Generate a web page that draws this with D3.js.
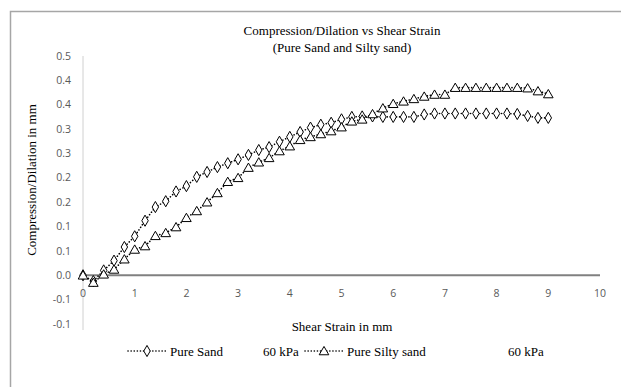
<!DOCTYPE html>
<html>
<head>
<meta charset="utf-8">
<script src="https://cdn.jsdelivr.net/npm/d3@7"></script>
<style>
  body { margin: 0; background: #fff; }
  svg { display: block; }
  .serif { font-family: "Liberation Serif", "DejaVu Serif", serif; fill: #000; font-size: 13px; }
  .tick-label { font-family: "Open Sans", "Liberation Sans", sans-serif; font-size: 10.5px; fill: #595959; }
</style>
</head>
<body>
<div id="chart"></div>
<script>
// shear strain (mm), one reading every 0.2 mm
var strain = [0, 0.2, 0.4, 0.6, 0.8, 1, 1.2, 1.4, 1.6, 1.8, 2, 2.2, 2.4, 2.6, 2.8, 3, 3.2, 3.4, 3.6, 3.8,
  4, 4.2, 4.4, 4.6, 4.8, 5, 5.2, 5.4, 5.6, 5.8, 6, 6.2, 6.4, 6.6, 6.8, 7, 7.2, 7.4, 7.6, 7.8,
  8, 8.2, 8.4, 8.6, 8.8, 9];

// compression/dilation (mm)
var pureSand = [0, -0.012, 0.010, 0.030, 0.058, 0.080, 0.112, 0.140, 0.152, 0.172, 0.183, 0.202, 0.212, 0.222,
  0.230, 0.238, 0.247, 0.257, 0.263, 0.274, 0.284, 0.294, 0.303, 0.309, 0.313, 0.320, 0.325, 0.326,
  0.326, 0.325, 0.325, 0.325, 0.325, 0.330, 0.332, 0.332, 0.332, 0.332, 0.332, 0.332, 0.332, 0.332,
  0.331, 0.327, 0.323, 0.323];

var siltySand = [0, -0.015, 0.002, 0.012, 0.033, 0.053, 0.060, 0.081, 0.087, 0.099, 0.118, 0.132, 0.150, 0.169,
  0.192, 0.200, 0.221, 0.232, 0.241, 0.255, 0.265, 0.278, 0.284, 0.290, 0.296, 0.304, 0.316, 0.320,
  0.331, 0.343, 0.352, 0.357, 0.362, 0.367, 0.371, 0.371, 0.385, 0.385, 0.385, 0.385, 0.385, 0.385,
  0.385, 0.384, 0.378, 0.372];

var seriesNames = ["Pure Sand", "Pure Silty sand"];
var seriesLoad = ["60 kPa", "60 kPa"];

var xTicks = [0, 1, 2, 3, 4, 5, 6, 7, 8, 9, 10];
var yTicks = [-0.1, -0.05, 0, 0.05, 0.1, 0.15, 0.2, 0.25, 0.3, 0.35, 0.4, 0.45];
var yTickLabels = ["-0.1", "-0.1", "0.0", "0.1", "0.1", "0.2", "0.2", "0.3", "0.3", "0.4", "0.4", "0.5"];

var width = 621, height = 387;

var svg = d3.select("#chart").append("svg")
    .attr("width", width)
    .attr("height", height);

// chart frame
svg.append("rect")
    .attr("x", 10.5).attr("y", 11.5)
    .attr("width", 640).attr("height", 400)
    .style("fill", "none")
    .style("stroke", "#a6a6a6")
    .style("stroke-width", 1.5);

var x = d3.scaleLinear().domain([0, 10]).range([83, 600]);
var y = d3.scaleLinear().domain([-0.1, 0.45]).range([324, 56]);

// title
svg.append("text").attr("class", "serif")
    .attr("x", 342).attr("y", 35)
    .attr("text-anchor", "middle")
    .text("Compression/Dilation vs Shear Strain");
svg.append("text").attr("class", "serif")
    .attr("x", 342).attr("y", 52)
    .attr("text-anchor", "middle")
    .text("(Pure Sand and Silty sand)");

// y axis line
svg.append("line")
    .attr("x1", x(0)).attr("x2", x(0))
    .attr("y1", y(0.45)).attr("y2", y(-0.1) + 6)
    .style("stroke", "#d0d0d0")
    .style("stroke-width", 1);

// y tick labels
svg.append("g").selectAll("text")
    .data(yTicks)
    .enter().append("text")
    .attr("class", "tick-label")
    .attr("x", 71)
    .attr("y", function(d) { return y(d); })
    .attr("dy", "0.35em")
    .attr("text-anchor", "end")
    .text(function(d, i) { return yTickLabels[i]; });

// x axis line at zero
svg.append("line")
    .attr("x1", x(0)).attr("x2", x(10))
    .attr("y1", y(0)).attr("y2", y(0))
    .style("stroke", "#808080")
    .style("stroke-width", 2);

// x tick labels
svg.append("g").selectAll("text")
    .data(xTicks)
    .enter().append("text")
    .attr("class", "tick-label")
    .attr("x", function(d) { return x(d); })
    .attr("y", y(0) + 22)
    .attr("text-anchor", "middle")
    .text(function(d) { return d; });

// axis titles
svg.append("text").attr("class", "serif")
    .attr("transform", "translate(36,180) rotate(-90)")
    .attr("text-anchor", "middle")
    .text("Compression/Dilation in mm");

svg.append("text").attr("class", "serif")
    .attr("x", 342).attr("y", 331)
    .attr("text-anchor", "middle")
    .text("Shear Strain in mm");

// markers
var diamond = d3.symbol().type(d3.symbolDiamond).size(36);
var triangle = d3.symbol().type(d3.symbolTriangle).size(40);
var shapes = [diamond, triangle];

var line = d3.line()
    .x(function(d) { return x(d[0]); })
    .y(function(d) { return y(d[1]); });

[pureSand, siltySand].forEach(function(vals, s) {
    var pts = strain.map(function(v, i) { return [v, vals[i]]; });
    var g = svg.append("g");

    g.append("path")
        .datum(pts)
        .attr("d", line)
        .style("fill", "none")
        .style("stroke", "#000")
        .style("stroke-width", 1.6)
        .style("stroke-dasharray", "0.1,3")
        .style("stroke-linecap", "round");

    g.selectAll("path.pt")
        .data(pts)
        .enter().append("path")
        .attr("class", "pt")
        .attr("d", shapes[s])
        .attr("transform", function(d) {
            return "translate(" + x(d[0]) + "," + (y(d[1]) + (s === 1 ? 1 : 0)) + ")";
        })
        .style("fill", "#fff")
        .style("stroke", "#000")
        .style("stroke-width", 1);
});

// legend
var legendX = [128, 305];
var loadX = [263, 508];
var legendY = 351;
var legend = svg.append("g");
seriesNames.forEach(function(name, s) {
    var lx = legendX[s];
    legend.append("line")
        .attr("x1", lx).attr("x2", lx + 38)
        .attr("y1", legendY).attr("y2", legendY)
        .style("stroke", "#000")
        .style("stroke-width", 1.6)
        .style("stroke-dasharray", "0.1,3")
        .style("stroke-linecap", "round");
    legend.append("path")
        .attr("d", shapes[s])
        .attr("transform", "translate(" + (lx + 19) + "," + (legendY + (s === 1 ? 1 : 0)) + ")")
        .style("fill", "#fff")
        .style("stroke", "#000")
        .style("stroke-width", 1);
    legend.append("text").attr("class", "serif")
        .attr("x", lx + 42).attr("y", legendY + 4.5)
        .text(name);
    legend.append("text").attr("class", "serif")
        .attr("x", loadX[s]).attr("y", legendY + 4.5)
        .text(seriesLoad[s]);
});
</script>
</body>
</html>
